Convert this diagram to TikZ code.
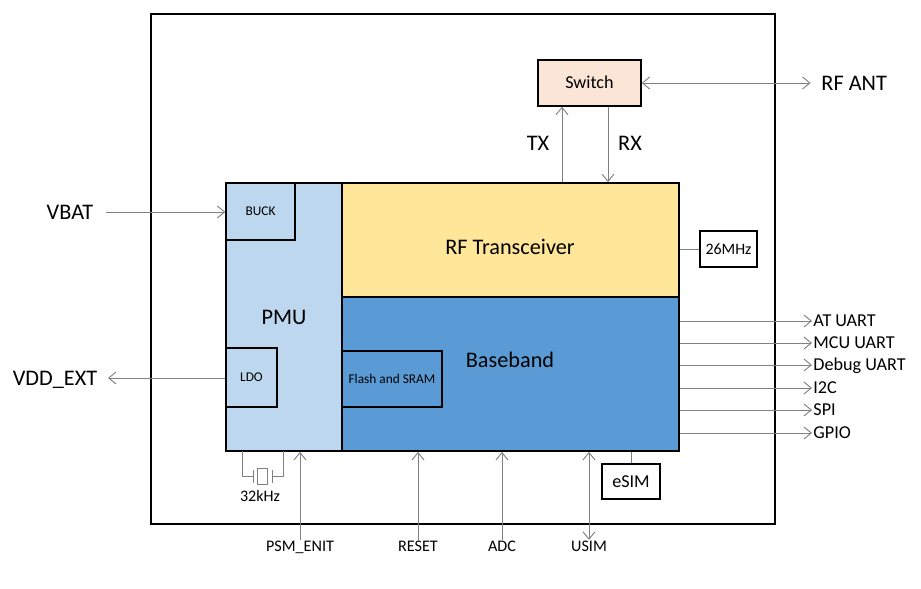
\documentclass[tikz,border=0pt]{standalone}
\usepackage{fontspec}
\setmainfont{Carlito}
\usetikzlibrary{arrows.meta}
\definecolor{pmuc}{HTML}{BDD7EE}
\definecolor{rfc}{HTML}{FFE699}
\definecolor{bbc}{HTML}{5B9BD5}
\definecolor{swc}{HTML}{FBE5D6}
\definecolor{wirec}{HTML}{808080}

\begin{document}
\begin{tikzpicture}[x=0.03cm,y=-0.03cm,
  txt/.style={inner sep=1pt,text height={0.644*#1pt},text depth=0pt,font=\fontsize{#1}{#1}\selectfont},
  txt/.default=19,
  blk/.style={draw,line width=1.5pt,fill=#1,inner sep=0pt,txt},
  sub/.style={draw,line width=1.1pt,fill=#1,inner sep=0pt,txt=11.4},
  box/.style={draw,line width=1pt,fill=white,inner sep=0pt,txt=#1},
  arr/.style={draw=wirec,line width=0.8pt,-{Straight Barb[length=2.2mm,width=3.6mm]}},
  arrs/.style={draw=wirec,line width=0.8pt,{Straight Barb[length=2.2mm,width=3.6mm]}-{Straight Barb[length=2.2mm,width=3.6mm]}},
  wire/.style={draw=wirec,line width=0.8pt}
  ]
\useasboundingbox (0,0) rectangle (921,589);
\draw[line width=1pt] (151,14) rectangle (775,524);

\node[blk=pmuc,minimum width=3.48cm,minimum height=8.04cm] (pmu) at (284,317) {PMU};
\node[blk=rfc,minimum width=10.11cm,minimum height=3.42cm] (rf) at (510.5,240) {};
\node[blk=bbc,minimum width=10.11cm,minimum height=4.62cm] (bb) at (510.5,374) {};
\node[txt] (rft) at (510,247) {RF Transceiver};
\node[txt] (bbt) at (510,360) {Baseband};
\node[sub=pmuc,minimum width=2.07cm,minimum height=1.71cm] (buck) at (260.5,211.5) {BUCK};
\node[sub=pmuc,minimum width=1.53cm,minimum height=1.77cm] (ldo) at (251.5,377.5) {LDO};
\node[sub=bbc,minimum width=3cm,minimum height=1.68cm] (mem) at (392,379) {Flash and SRAM};

\node[box=15.5,fill=swc,line width=1.2pt,minimum width=3.09cm,minimum height=1.38cm] (sw) at (589.5,83) {Switch};
\node[box=13.6,minimum width=1.71cm,minimum height=1.08cm] (xo) at (728.5,249) {26MHz};
\node[box=15.5,minimum width=1.74cm,minimum height=1.05cm] (esim) at (631,481.5) {eSIM};

\node[txt] (tx) at (538,143) {TX};
\node[txt] (rx) at (630,143) {RX};
\coordinate (txp) at (562,0);
\coordinate (rxp) at (608,0);
\draw[arr] (txp |- rf.north) -- (txp |- sw.south);
\draw[arr] (rxp |- sw.south) -- (rxp |- rf.north);

\node[txt,anchor=west] (ant) at (820,83) {RF ANT};
\draw[arrs,shorten >=8pt] (sw.east) -- (ant.west);

\node[txt] (vbat) at (70,212) {VBAT};
\node[txt] (vdd) at (55,378) {VDD\_EXT};
\draw[arr,shorten <=10pt] (vbat.east) -- (vbat.east -| buck.west);
\draw[arr,shorten >=8pt] (vdd.east -| ldo.west) -- (vdd.east);

\draw[wire] (xo) -- (xo -| rf.east);
\draw[wire] (esim) -- (esim |- bb.south);

\foreach \y/\t [count=\i] in {321/AT UART,343/MCU UART,365/Debug UART,388/I2C,410/SPI,433/GPIO}{
  \node[txt=15.5,anchor=west] (s\i) at (812,\y) {\t};
  \draw[arr] (s\i.west -| bb.east) -- (s\i.west);
}

\foreach \x/\t/\n in {300/PSM\_ENIT/psm,418/RESET/rst,502/ADC/adc}{
  \node[txt=13.8] (\n) at (\x,546.5) {\t};
  \draw[arr] (\n.north) -- (\n.north |- bb.south);
}
\node[txt=13.8] (usim) at (589,546.5) {USIM};
\draw[arrs] (usim.north) -- (usim.north |- bb.south);

\coordinate (xtal) at (262.5,476.5);
\draw[wire] (242,451) |- (253,476.5) (283,451) |- (272,476.5);
\draw[wire] (253,470) -- (253,483) (272,470) -- (272,483);
\draw[wire] (257.5,468.5) rectangle (267.5,484.5);
\node[txt=13.7] (xtl) at (260,496) {32kHz};
\end{tikzpicture}
\end{document}
